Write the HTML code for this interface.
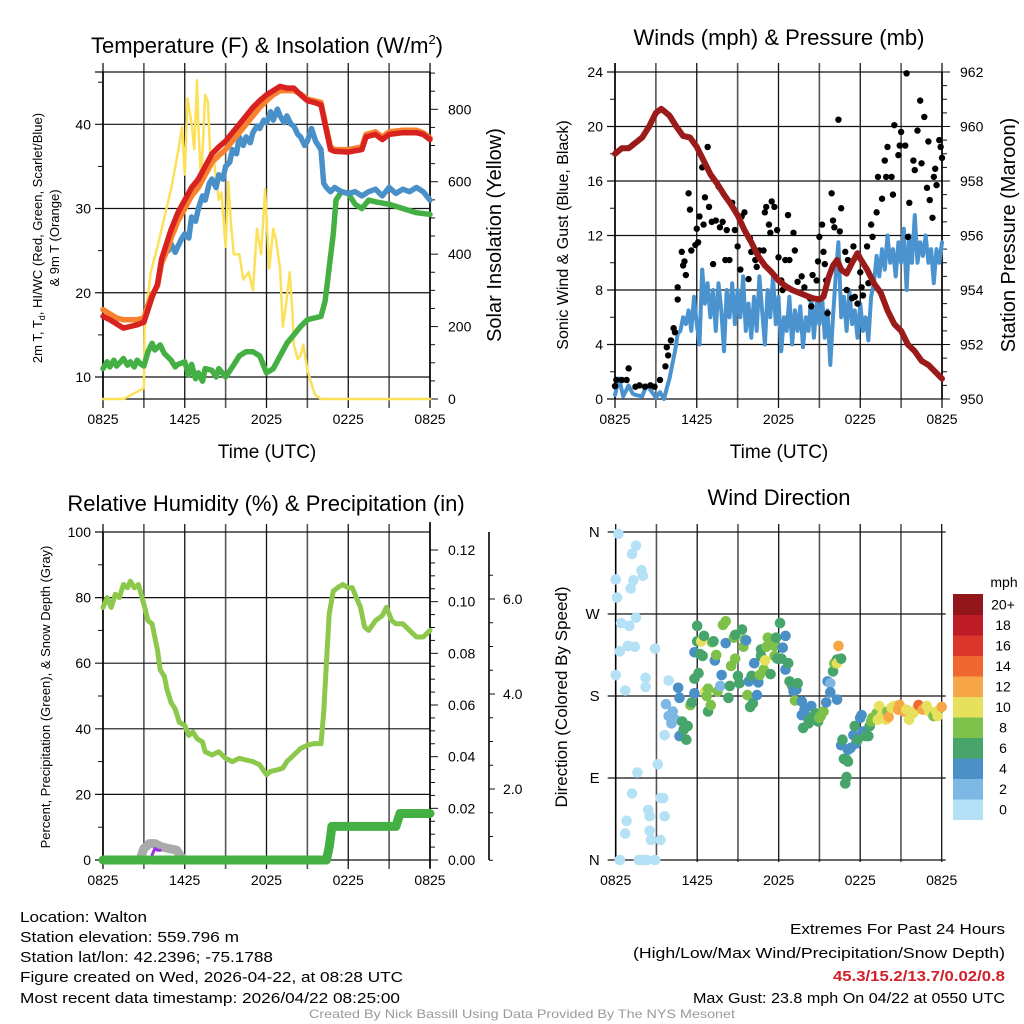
<!DOCTYPE html>
<html><head><meta charset="utf-8"><style>
html,body{margin:0;padding:0;background:#fff}
svg{display:block;font-family:"Liberation Sans",sans-serif}
</style></head><body>
<svg id="fig" width="1024" height="1024" viewBox="0 0 1024 1024" xmlns="http://www.w3.org/2000/svg">
<rect width="1024" height="1024" fill="#fff"/>
<g id="g1"></g>
<g id="g2"></g>
<g id="g3"></g>
<g id="g4"></g>
<text x="267" y="53" font-size="22" text-anchor="middle">Temperature (F) &amp; Insolation (W/m<tspan font-size="13" dy="-9">2</tspan><tspan dy="9">)</tspan></text>
<text x="779" y="45" font-size="22" text-anchor="middle">Winds (mph) &amp; Pressure (mb)</text>
<text x="266" y="511" font-size="22" text-anchor="middle">Relative Humidity (%) &amp; Precipitation (in)</text>
<text x="779" y="505" font-size="22" text-anchor="middle">Wind Direction</text>
<text x="267" y="458" font-size="19" text-anchor="middle">Time (UTC)</text>
<text x="779" y="458" font-size="19" text-anchor="middle">Time (UTC)</text>
<text font-size="13" text-anchor="middle" transform="translate(42,238) rotate(-90)">2m T, T<tspan font-size="9" dy="3">d</tspan><tspan dy="-3">, HI/WC (Red, Green, Scarlet/Blue)</tspan></text>
<text font-size="13" text-anchor="middle" transform="translate(59,238) rotate(-90)">&amp; 9m T (Orange)</text>
<text font-size="20" text-anchor="middle" transform="translate(501,235) rotate(-90)">Solar Insolation (Yellow)</text>
<text font-size="16" text-anchor="middle" transform="translate(568,235) rotate(-90)">Sonic Wind &amp; Gust (Blue, Black)</text>
<text font-size="20" text-anchor="middle" transform="translate(1015,235) rotate(-90)">Station Pressure (Maroon)</text>
<text font-size="13" text-anchor="middle" transform="translate(50,697) rotate(-90)">Percent, Precipitation (Green), &amp; Snow Depth (Gray)</text>
<text font-size="17" text-anchor="middle" transform="translate(567,697) rotate(-90)">Direction (Colored By Speed)</text>
<g font-size="15">
<text x="20" y="922" textLength="127" lengthAdjust="spacingAndGlyphs">Location: Walton</text>
<text x="20" y="942" textLength="219" lengthAdjust="spacingAndGlyphs">Station elevation: 559.796 m</text>
<text x="20" y="962" textLength="253" lengthAdjust="spacingAndGlyphs">Station lat/lon: 42.2396; -75.1788</text>
<text x="20" y="982" textLength="383" lengthAdjust="spacingAndGlyphs">Figure created on Wed, 2026-04-22, at 08:28 UTC</text>
<text x="20" y="1003" textLength="380" lengthAdjust="spacingAndGlyphs">Most recent data timestamp: 2026/04/22 08:25:00</text>
</g>
<g font-size="15" text-anchor="end">
<text x="1005" y="934" textLength="215" lengthAdjust="spacingAndGlyphs">Extremes For Past 24 Hours</text>
<text x="1005" y="958" textLength="372" lengthAdjust="spacingAndGlyphs">(High/Low/Max Wind/Precipitation/Snow Depth)</text>
<text x="1005" y="981" textLength="172" lengthAdjust="spacingAndGlyphs" fill="#d0202a" font-weight="bold">45.3/15.2/13.7/0.02/0.8</text>
<text x="1005" y="1003" textLength="312" lengthAdjust="spacingAndGlyphs">Max Gust: 23.8 mph On 04/22 at 0550 UTC</text>
</g>
<text x="522" y="1018" font-size="12" fill="#999" text-anchor="middle" textLength="426" lengthAdjust="spacingAndGlyphs">Created By Nick Bassill Using Data Provided By The NYS Mesonet</text>
</svg>
<script>
// ---------- data ----------
const timeTickLabels = ["0825","1425","2025","0225","0825"];
const tempTimes = [0,0.5,1,1.5,2,2.5,3,3.3,3.6,4,4.3,4.7,5,5.5,6,6.5,7,7.5,8,8.5,9,9.5,10,10.5,11,11.5,12,12.5,13,13.5,14,14.5,15,15.5,16,16.3,16.7,17,18,19,19.3,20,20.5,21,22,23,23.5,24];
const temp2m = [17.2,16.8,16.3,15.8,16,16.2,16.5,18,19.5,21,24,26,27.5,29.5,31,32.5,33.5,35,36.5,37.3,38,39,40,41,42,42.8,43.5,44,44.5,44.3,44.3,43.5,42.8,42.6,42.3,40,37,36.8,36.7,37,38.5,38.8,38.2,38.8,39,39,38.8,38.2];
const temp9m = [18,17.5,17,16.8,16.8,16.8,17,18.6,19.8,20.8,23.5,25,26.5,28.5,30,31.5,32.5,34,35.5,36.3,37,38,39,40,41,42,42.8,43.5,44,44,44,43.6,43,42.8,42.6,40.3,37.3,37,37,37.3,38.8,39.1,38.5,39.1,39.3,39.3,39,38.4];
const chillTimes = [4.8,5,5.3,5.5,5.8,6,6.3,6.5,6.8,7,7.3,7.5,7.8,8,8.3,8.5,8.8,9,9.3,9.5,9.8,10,10.3,10.5,10.8,11,11.3,11.5,11.8,12,12.3,12.5,12.8,13,13.3,13.5,13.8,14,14.3,14.5,14.8,15,15.3,15.6,16,16.2,16.4,16.7,17,17.5,18,18.5,19,19.5,20,20.5,21,21.5,22,22.5,23,23.5,24];
const chill = [25,25.8,24.8,25.5,26.5,27,26.5,29,28.5,30,31.5,31,33,33.5,32.5,34,33.5,35,35.5,37,36.5,38.5,37.5,38.5,37.8,39,39.8,39.5,40.5,40.2,41.5,40.5,41.8,41,40.2,41,40,39.8,38.8,38.5,37.5,38,39.5,38,37,33,32.5,32,32.5,32,31.8,32,31.5,32,32.3,31.5,32.5,31.8,32.3,32,32.5,32,31];
const dewTimes = [0,0.3,0.5,0.8,1,1.3,1.5,1.8,2,2.3,2.5,2.8,3,3.3,3.6,3.8,4.2,4.5,5,5.3,5.5,6,6.3,6.5,6.8,7,7.3,7.5,8,8.3,8.5,9,9.5,10,10.5,11,11.5,12,12.5,13,13.5,14,14.5,15,15.5,16,16.3,16.6,16.9,17.1,17.5,18,18.5,19,19.5,20,21,22,23,24];
const dew = [11,11.8,11.2,12,11.3,11.8,12.2,11.4,11.8,11.2,12,11.5,11.3,13,14,13.2,13.8,12.8,12,11.2,11.5,11.8,10.2,11.5,9.8,10.5,9.5,11,10.8,10,11,10,11.2,12.5,13,13,12.5,10.5,11,12.5,14,15,16,16.8,17,17.2,19,23,27,31,32,31.8,30.5,30,31,30.8,30.5,30,29.5,29.3];
const solarTimes = [0,1.5,2,2.5,3,3.05,3.5,4,4.5,5,5.5,5.8,6,6.2,6.5,6.7,6.9,7,7.2,7.5,7.7,7.9,8.1,8.5,8.7,9,9.2,9.4,9.6,10,10.3,10.7,11,11.3,11.6,11.9,12.2,12.5,12.7,13,13.2,13.4,13.7,13.9,14,14.3,14.5,14.7,15,15.4,15.6,16,24];
const solar = [0,0,10,20,30,200,350,420,500,580,680,750,620,830,760,690,880,750,600,840,820,650,670,550,570,420,600,480,400,400,330,350,300,470,400,580,360,470,440,360,200,250,350,240,150,110,120,150,80,30,10,0,0];
const windTimesEarly = [0,0.3,0.6,1,1.3,1.5,2,2.3,2.5,3,3.3,3.6,3.8];
const windSpeedEarly = [0.3,1.5,0.2,1,0.4,0.3,0.2,1,0.8,0.1,0.5,0,0.8];
const windSpeedLate = [1.5,2.5,3.5,4.8,5,6,5.5,6.5,5,7.5,5.5,4,9.5,7,8.5,6,8,5,8.5,6.5,3.5,8,6,8.5,5.5,8,6,9,5,7,4.5,7.5,5,9,6.5,4,8,6,9,5.5,7.5,3.5,6,5,7.5,4,6.5,5,6.8,3.8,6,5,7.5,4.5,7,5.5,7.5,4.5,6.5,2.5,6,9,11.5,6,7.5,5,8,5.5,6.5,4.5,7,5,6,4.3,7.5,8.5,10.5,9,11,9.5,12,10,11,9,11.5,10,12.5,8,12,10,13.5,10,11.5,10.5,12,10,11,8.5,11,10,11.5];
const windTimesLate = windSpeedLate.map((_,i)=>4+i*0.2);
const windTimes = windTimesEarly.concat(windTimesLate);
const windSpeed = windSpeedEarly.concat(windSpeedLate);
const gustObs = [[0,0.95],[0.1,1.4],[0.5,1.4],[0.85,1.4],[1,2.25],[1.5,0.9],[1.8,1],[2.2,0.9],[2.6,1],[2.9,0.9],[3.3,1.4],[3.7,2.4],[3.8,3.8],[3.9,3.2],[4.1,4.3],[4.3,5.2],[4.4,4.9],[4.6,8.2],[4.6,7.3],[4.9,10.8],[5,9.8],[5.1,10.1],[5.2,9.1],[5.4,15.1],[5.5,13.9],[5.6,10.9],[5.9,11.3],[6,12.5],[6.1,11.5],[6.2,13.4],[6.4,17],[6.5,12.8],[6.6,14.8],[6.8,18.5],[6.9,14.1],[7.1,13],[7.2,9.9],[7.4,13.1],[7.6,15.6],[7.7,12.6],[7.9,13],[8.1,10.2],[8.2,12.4],[8.4,10.2],[8.6,14.4],[8.8,12.4],[9,11.2],[9.2,9.5],[9.3,13.4],[9.5,13.7],[9.8,8.8],[9.9,11.8],[10,10.8],[10.3,10.2],[10.4,9.7],[10.6,10.9],[10.9,10.9],[11,13.7],[11.1,14.1],[11.3,12.8],[11.4,12.2],[11.5,14.5],[11.7,14.1],[11.9,12.4],[12,10.4],[12.2,8.7],[12.3,8],[12.5,10.2],[12.7,13.5],[12.8,10.2],[13.1,12.2],[13.2,10.9],[13.4,8.6],[13.6,7.8],[13.7,9],[13.9,8.2],[14.3,7.4],[14.4,6.8],[14.5,9.1],[14.8,8.7],[14.9,10.1],[15,11.9],[15.2,12.8],[15.3,10.8],[15.4,9.9],[15.5,8.7],[15.6,6.3],[15.9,15.1],[16,13.1],[16.1,12.6],[16.4,20.5],[16.5,12.3],[16.6,14],[16.9,10.8],[17,8],[17.1,10.2],[17.4,7.4],[17.5,11.2],[17.6,7.5],[17.8,7],[18,9.3],[18.1,8.2],[18.2,7.6],[18.5,11.2],[18.6,8.5],[18.8,12.8],[18.9,11.9],[19.2,13.7],[19.3,16.3],[19.6,14.7],[19.8,17.5],[19.9,16.3],[20,18.5],[20.3,16.3],[20.4,15],[20.5,20.1],[20.8,17.9],[20.9,18.6],[21,19.6],[21.3,18.6],[21.4,23.9],[21.5,11.9],[21.6,14.4],[21.9,17.5],[22,16.8],[22.2,19.7],[22.4,21.9],[22.5,17.3],[22.7,20.7],[22.9,15.5],[23,18.9],[23.1,14.6],[23.3,13.3],[23.4,16.3],[23.5,16.9],[23.6,15.7],[23.8,19],[23.9,18.5],[24,17.7]];
const presTimes = [0,0.5,1,1.5,2,2.5,3,3.4,4,4.5,5,5.5,6,6.5,7,7.5,8,8.5,9,9.5,10,10.5,11,11.5,12,12.5,13,13.5,14,14.5,15,15.3,15.7,16,16.3,16.6,17,17.4,17.8,18,18.5,19,19.5,20,20.5,21,21.5,22,22.5,23,23.5,24];
const pressure = [959,959.2,959.2,959.4,959.6,960,960.5,960.65,960.4,960,959.65,959.6,959.25,958.75,958.25,957.9,957.5,957.15,956.75,956.2,955.75,955.25,954.9,954.65,954.35,954.15,954,953.9,953.8,953.7,953.65,953.75,954.5,954.9,955.1,954.75,954.6,955,955.35,955.15,954.75,954.25,953.9,953.25,952.75,952.5,952,951.75,951.4,951.25,951,950.75];
const rhTimes = [0,0.3,0.6,0.9,1.2,1.5,1.8,2,2.3,2.6,3,3.3,3.6,3.9,4,4.2,4.5,4.7,5,5.3,5.6,6,6.3,6.6,6.9,7.3,7.5,8,8.5,9,9.5,10,10.5,11,11.5,12,12.3,12.8,13.2,13.5,14,14.5,15,15.5,16,16.2,16.4,16.6,16.9,17.2,17.6,18,18.3,18.6,18.9,19.2,19.5,20,20.5,20.8,21.2,21.5,22,22.5,23,23.5,24];
const rh = [77,80,77,81,80,84,83,85,83,84,78,73,72,66,64,58,56,52,48,46,42,41,38,39,37,36,33,32,33,31,30,31,30.5,30,29,26,27,27.5,28,30,32,34,35,35.5,35.5,45,60,75,82,83,84,83,83,80,77,71,70,73,74.5,77,73,72,72,70,68,68,70];
const precipTimes = [0,16.4,16.6,16.8,21.5,21.8,24];
const precip = [0,0,0.005,0.013,0.013,0.018,0.018];
const snowTimes = [2.7,3,3.4,3.8,4.3,4.8,5.4,5.9];
const snowPct = [0,3.5,5,5,4,3.5,3,0];
const dirObs = [[0.2,358,1],[1.5,345,1],[1.2,336,1],[0,308,1],[0.1,288,1],[1.9,318,1],[2,312,1],[1.3,307,1],[1.1,298,1],[1.5,266,1],[0.4,260,1],[1,257,1],[0.3,229,1],[0.9,235,1],[1.4,234,1],[2.9,232,1],[0,203,1],[0.7,186,1],[2.2,200,1],[2.2,190,1],[3.9,197,1],[3.6,137,1],[3.1,105,1],[1.6,96,1],[1.2,73,1],[3.3,68,1],[3.5,68,1],[2.4,55,1],[2.5,48,1],[0.8,43,1],[3.6,48,1],[2.5,32,1],[2.6,22,1],[3.3,22,1],[0.7,29,1],[0.3,0,1],[1.7,0,1],[2,0,1],[2.3,0,1],[2.9,0,1],
[3.7,171,3],[3.9,158,3],[4.1,150,3],[4.2,163,3],[4.4,154,3],[4.6,189,5],[4.7,178,5],[4.7,136,5],[4.9,152,7],[5,143,7],[5.2,132,7],[5.3,147,7],[5.5,170,9],[5.6,173,7],[5.8,183,5],[5.8,199,7],[5.8,228,5],[6,257,7],[6,240,7],[6.1,205,7],[6.2,226,7],[6.3,240,11],[6.4,224,7],[6.5,246,7],[6.6,185,11],[6.7,180,9],[6.8,188,9],[6.8,163,7],[7,170,9],[7.1,239,9],[7.2,240,7],[7.3,219,5],[7.4,225,9],[7.5,185,9],[7.8,203,5],[7.7,191,3],[7.9,258,9],[8.1,238,5],[8.1,262,9],[8.3,178,7],[8.4,191,7],[8.5,213,9],[8.7,244,9],[8.8,221,9],[8.8,247,7],[9,202,7],[9.1,194,7],[9.3,253,7],[9.4,234,9],[9.5,242,9],[9.6,241,5],[9.7,181,9],[9.8,196,5],[9.9,168,7],[10,202,7],[10.1,172,7],[10.2,216,5],[10.4,181,5],[10.5,195,5],[10.6,203,9],[10.7,231,7],[10.7,224,7],[10.9,209,9],[11,219,11],[11.1,234,9],[11.2,244,9],[11.4,204,7],[11.5,240,9],[11.7,235,9],[11.7,224,9],[11.8,244,7],[11.9,221,7],[12.1,260,7],[12.2,221,7],[12.3,233,5],[12.5,246,5],[12.5,209,5],[12.7,216,7],[12.8,196,7],[13,191,7],[13.1,185,5],[13.2,175,9],[13.3,187,5],[13.4,194,7],[13.7,174,5],[13.7,159,5],[13.8,145,7],[13.9,165,5],[14,158,5],[14.2,150,7],[14.3,155,7],[14.4,169,5],[14.5,156,7],[14.7,161,7],[14.9,152,7],[15,156,9],[15.1,158,9],[15.3,163,9],[15.5,173,5],[15.6,196,5],[15.8,194,3],[15.8,184,5],[16,207,7],[16.1,216,9],[16.3,220,7],[16.3,216,11],[16.4,235,13],[16.3,176,5],[16.6,221,7],[16.6,126,5],[16.7,132,7],[16.8,111,7],[17,110,7],[17.1,108,7],[17,91,7],[16.9,84,7],[17.1,121,5],[17.3,123,5],[17.5,137,5],[17.6,147,7],[17.7,128,5],[17.8,132,7],[18,156,5],[18.1,159,5],[18.2,141,5],[18.4,136,7],[18.6,136,7],[18.7,147,7],[18.8,152,9],[18.9,156,9],[19.2,161,9],[19.3,154,11],[19.4,169,11],[19.6,159,11],[19.9,154,11],[20,163,9],[20.1,157,13],[20.3,167,11],[20.5,169,11],[20.8,165,13],[20.9,170,13],[21.2,163,13],[21.4,165,11],[21.6,154,11],[21.9,161,11],[22.1,165,11],[22.3,170,15],[22.6,165,13],[22.9,169,11],[23.1,163,11],[23.4,158,9],[23.6,163,11],[23.7,158,11],[24,168,13]];
const speedBins = ["0","2","4","6","8","10","12","14","16","18","20+"];
const speedColors = ["#b5e1f7","#7cb8e3","#4a8fc6","#47a56c","#7dc04a","#e6e05c","#f6a646","#ef6630","#dc352a","#bd1c26","#921619"];

// ---------- helpers ----------
const NS="http://www.w3.org/2000/svg";
function el(parent,tag,attrs){const e=document.createElementNS(NS,tag);for(const k in attrs)e.setAttribute(k,attrs[k]);parent.appendChild(e);return e;}
function lin(d0,d1,r0,r1){return v=>r0+(v-d0)/(d1-d0)*(r1-r0);}
function pathD(ts,vs,sx,sy){return ts.map((t,i)=>(i?"L":"M")+sx(t).toFixed(1)+","+sy(vs[i]).toFixed(1)).join("");}

function frame(g,x0,x1,y0,y1,opts){
  const sx=lin(0,24,x0,x1);
  for(let h=0;h<=24;h+=3){
    const x=sx(h);
    const ln=el(g,"line",{x1:x,x2:x,y1:y0-(opts.topExt||9),y2:y1+(opts.botExt||9),stroke:(h%6==0)?"#111":"#555","stroke-width":(h%6==0)?1.3:1.6});
    
    
  }
  if(opts.labels!==false){
    timeTickLabels.forEach((lab,i)=>{
      const t=el(g,"text",{x:sx(i*6),y:y1+(opts.labY||25),"font-size":14,"text-anchor":"middle"});
      t.textContent=lab;
      
      
    });
  }
  return sx;
}
function hgrid(g,x0,x1,y){const l=el(g,"line",{x1:x0-8,x2:x1,y1:y,y2:y,stroke:"#111","stroke-width":1.2});}
function ytick(g,x,y,len){el(g,"line",{x1:x,x2:x+len,y1:y,y2:y,stroke:"#111","stroke-width":1});}
function label(g,x,y,txt,anchor,size){const t=el(g,"text",{x:x,y:y+5,"font-size":size||14,"text-anchor":anchor});t.textContent=txt;return t;}
function axisLine(g,x,y0,y1){el(g,"line",{x1:x,x2:x,y1:y0,y2:y1,stroke:"#000","stroke-width":1.6});}
function series(g,ts,vs,sx,sy,color,w,name){const p=el(g,"path",{d:pathD(ts,vs,sx,sy),fill:"none",stroke:color,"stroke-width":w,"stroke-linejoin":"round","stroke-linecap":"round"});return p;}

// ---------- panel 1: temperature ----------
(function(){
  const g=document.getElementById("g1");
  const x0=103,x1=430,y0=72,y1=399;
  const sx=frame(g,x0,x1,y0,y1,{});
  const sy=lin(10,40,377,124.3), sr=lin(0,800,399,109.3);
  hgrid(g,x0,x1,y0);
  [10,20,30,40].forEach(v=>{hgrid(g,x0,x1,sy(v));label(g,x0-12,sy(v),String(v),"end",14);});
  [15,25,35,45].forEach(v=>ytick(g,x0-5,sy(v),5));
  for(let v=0;v<=900;v+=50){ytick(g,x1,sr(v),v%200==0?8:5);}
  [0,200,400,600,800].forEach(v=>label(g,x1+18,sr(v),String(v),"start",14));
  el(g,"line",{x1:x0,x2:x1,y1:y1,y2:y1,stroke:"#111","stroke-width":1.2});
  axisLine(g,x0,y0,y1);axisLine(g,x1,y0,y1);
  series(g,solarTimes,solar,sx,sr,"#fbe05a",2.5,"insolation-line");
  series(g,dewTimes,dew,sx,sy,"#44b044",5.5,"dewpoint-line");
  series(g,chillTimes,chill,sx,sy,"#4a90c8",5.5,"windchill-line");
  series(g,tempTimes,temp9m,sx,sy,"#f7812e",5.5,"temp-9m-line");
  series(g,tempTimes,temp2m,sx,sy,"#d8221f",5.5,"temp-2m-line");
})();

// ---------- panel 2: winds ----------
(function(){
  const g=document.getElementById("g2");
  const x0=615,x1=942,y0=72,y1=399;
  const sx=frame(g,x0,x1,y0,y1,{});
  const sy=lin(0,24,399,72), sp=lin(950,962,399,72);
  for(let v=0;v<=24;v+=4){hgrid(g,x0,x1,sy(v));label(g,x0-12,sy(v),String(v),"end",14);}
  for(let v=2;v<24;v+=4)ytick(g,x0-5,sy(v),5);
  for(let v=950;v<=962;v+=0.5){ytick(g,x1,sp(v),(v%2==0)?8:5);}
  for(let v=950;v<=962;v+=2)label(g,x1+18,sp(v),String(v),"start",14);
  axisLine(g,x0,y0-9,y1);axisLine(g,x1,y0,y1);
  series(g,windTimes,windSpeed,sx,sy,"#4a93cf",4,"sonic-wind-line");
  gustObs.forEach(o=>{
    const c=el(g,"circle",{cx:sx(o[0]),cy:sy(o[1]),r:3.2,fill:"#000"});
    
    
  });
  series(g,presTimes,pressure,sx,sp,"#9b1b1b",6,"pressure-line");
})();

// ---------- panel 3: humidity ----------
(function(){
  const g=document.getElementById("g3");
  const x0=103,x1=430,y0=532,y1=860;
  const sx=frame(g,x0,x1,y0,y1,{topExt:8,botExt:9});
  const sy=lin(0,100,860,532), sr=lin(0,0.12,860,550);
  for(let v=0;v<=100;v+=20){hgrid(g,x0,x1,sy(v));label(g,x0-12,sy(v),String(v),"end",14);}
  for(let v=10;v<100;v+=20)ytick(g,x0-5,sy(v),5);
  for(let i=0;i<=24;i++){const v=i*0.005;ytick(g,x1,sr(v),i%4==0?8:5);}
  for(let i=0;i<=6;i++)label(g,x1+18,sr(i*0.02),(i*0.02).toFixed(2),"start",14);
  axisLine(g,x0,y0,y1);axisLine(g,x1,y0-10,y1+8);
  const sSnow=lin(0,2,884,789);
  axisLine(g,489,532,860);
  for(let k=1;k<=13;k++){const y=sSnow(k*0.5);if(y>=532)ytick(g,489,y,(k%4==0)?6:4);}
  ["2.0","4.0","6.0"].forEach((l,i)=>label(g,503,sSnow((i+1)*2),l,"start",14));
  series(g,snowTimes,snowPct,sx,sy,"#aaa",9,"snow-depth-line");
  series(g,[3.6,3.8,4,4.2],[1.5,3.5,3,3],sx,sy,"#9b30e6",3,"snow-fall-line");
  series(g,rhTimes,rh,sx,sy,"#8cc84b",5,"humidity-line");
  series(g,precipTimes,precip,sx,sr,"#44b044",9,"precip-line");
})();

// ---------- panel 4: wind direction ----------
(function(){
  const g=document.getElementById("g4");
  const x0=615.7,x1=941.7,y0=532,y1=860;
  const sx=frame(g,x0,x1,y0,y1,{topExt:8,botExt:2});
  const sy=lin(0,360,860,532);
  const dirLabels=["N","E","S","W","N"];
  dirLabels.forEach((l,i)=>{hgrid(g,x0,x1+4,sy(i*90));label(g,x0-16,sy(i*90),l,"end",15);});
  axisLine(g,x0,y0,y1);
  dirObs.forEach(o=>{
    const bin=Math.min(10,Math.floor(o[2]/2));
    const c=el(g,"circle",{cx:sx(o[0]),cy:sy(o[1]),r:5.3,fill:speedColors[bin]});
    
    
  });
  const cb=el(g,"g",{});
  
  
  const bx=953,bw=30,btop=594,bh=20.5;
  speedBins.forEach((lab,i)=>{
    const y=btop+(10-i)*bh;
    const r=el(cb,"rect",{x:bx,y:y,width:bw,height:bh+0.5,fill:speedColors[i]});
    
    
    label(cb,1003,y+bh/2,lab,"middle",14);
  });
  const m=el(cb,"text",{x:1004,y:587,"font-size":14,"text-anchor":"middle"});
  m.textContent="mph";
  
  
})();
</script>
</body></html>
